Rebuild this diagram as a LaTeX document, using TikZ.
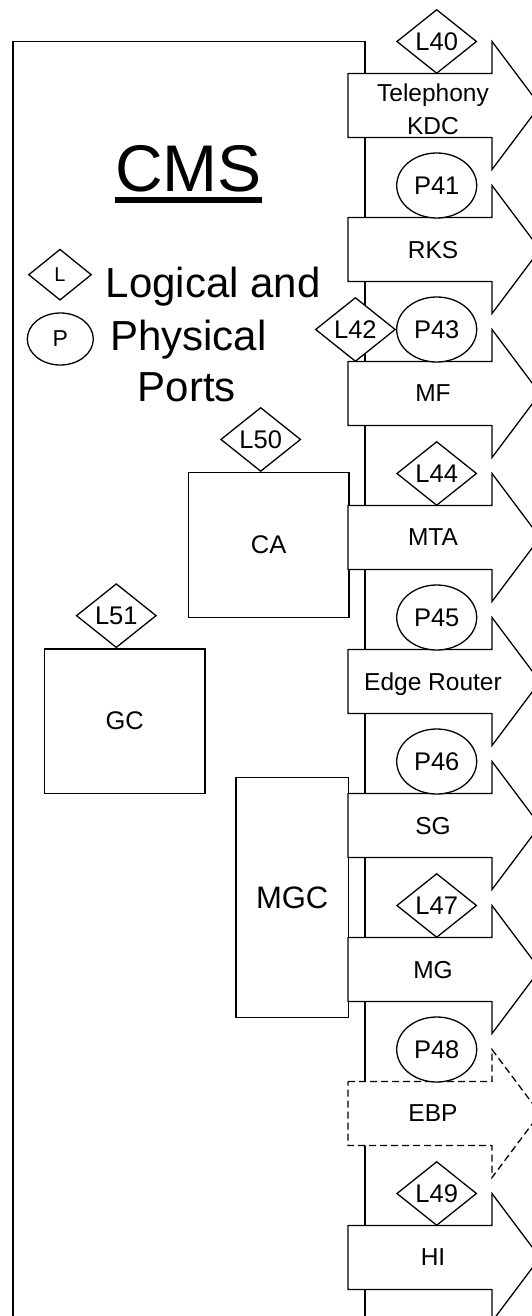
\documentclass[tikz,border=0pt]{standalone}
\usepackage{fontspec}
\setmainfont{Liberation Sans}
\usepackage{tikz}
\usetikzlibrary{positioning,shapes.geometric}

\begin{document}
\begin{tikzpicture}[x=1pt, y=-1pt, line width=1.3pt,
    box/.style={rectangle, draw, fill=white, inner sep=0pt, font=\fontsize{25.5}{30}\selectfont},
    ldiamond/.style={diamond, draw, fill=white, inner sep=0pt, minimum width=80pt, minimum height=64pt, font=\fontsize{25.5}{30}\selectfont},
    pellipse/.style={ellipse, draw, fill=white, inner sep=0pt, minimum width=80pt, minimum height=65pt, font=\fontsize{25.5}{30}\selectfont},
    bigarrow/.style={draw, fill=white, line join=miter},
    ebpdash/.style={dash pattern=on 7pt off 4pt},
    arrowlabel/.style={align=center, inner sep=0pt, text depth=0pt, font=\fontsize{24.5}{32.5}\selectfont},
    legend/.style={anchor=base west, inner sep=0pt, font=\fontsize{42}{50}\selectfont}]
    \useasboundingbox (0,0) rectangle (532,1316);
    \clip (0,0) rectangle (532,1316);

    % CMS frame, open at the bottom
    \node[draw, line width=1.5pt, anchor=north west, minimum width=352pt, minimum height=1320pt, inner sep=0pt] (cms) at (12.3,40.7) {};
    \node[anchor=base, inner sep=0pt, font=\fontsize{66}{70}\selectfont] (title) at (188.5,192)
        {\setbox0\hbox{CMS}\rlap{\rule[-10.5pt]{\wd0}{5.5pt}}\box0};

    % legend
    \node[ldiamond, minimum width=63pt, minimum height=51pt, font=\fontsize{20}{22}\selectfont] (legl) at (60,274.7) {L};
    \node[pellipse, minimum width=66pt, minimum height=52pt, font=\fontsize{23}{26}\selectfont] (legp) at (60.3,339) {P};
    \node[legend] (leglogical) at (105,297) {Logical and};
    \node[legend] (legphysical) at (109.5,350) {Physical};
    \node[legend] (legports) at (137,401.7) {Ports};

    % inner elements
    \node[box, minimum width=160.5pt, minimum height=144.5pt] (ca) at (268.7,545) {CA};
    \node[box, minimum width=160.5pt, minimum height=144.5pt] (gc) at (124.7,721.2) {GC};
    \node[box, minimum width=112.3pt, minimum height=240.4pt, font=\fontsize{31}{36}\selectfont] (mgc) at (292.2,897.5) {MGC};
    \node[ldiamond, above=0pt of ca, xshift=-8pt] (L50) {L50};
    \node[ldiamond, above=0pt of gc, xshift=-8.4pt] (L51) {L51};

    % interface arrows
    \foreach \i/\nm/\txt/\ln/\sh in {0/kdc/{Telephony\\KDC}/solid/3.5, 1/rks/RKS/solid/0, 2/mf/MF/solid/0,
        3/mta/MTA/solid/0, 4/er/Edge Router/solid/0, 5/sg/SG/solid/0, 6/mg/MG/solid/0,
        7/ebp/EBP/ebpdash/0, 8/hi/HI/solid/0}{
        \pgfmathsetmacro{\y}{105.5+144*\i}
        \draw[bigarrow, \ln] (348,\y-32) -- (492,\y-32) -- (492,\y-64) -- (540,\y)
            -- (492,\y+64) -- (492,\y+32) -- (348,\y+32) -- cycle;
        \node[arrowlabel] (\nm) at (433,\y+\sh) {\txt};
    }

    % ports
    \foreach \i/\nm/\shp in {0/L40/ldiamond, 1/P41/pellipse, 2/P43/pellipse, 3/L44/ldiamond,
        4/P45/pellipse, 5/P46/pellipse, 6/L47/ldiamond, 7/P48/pellipse, 8/L49/ldiamond}{
        \node[\shp] (\nm) at (436.7,{105.5+144*\i-64}) {\nm};
    }
    \node[ldiamond, left=0pt of P43] (L42) {L42};
\end{tikzpicture}
\end{document}
